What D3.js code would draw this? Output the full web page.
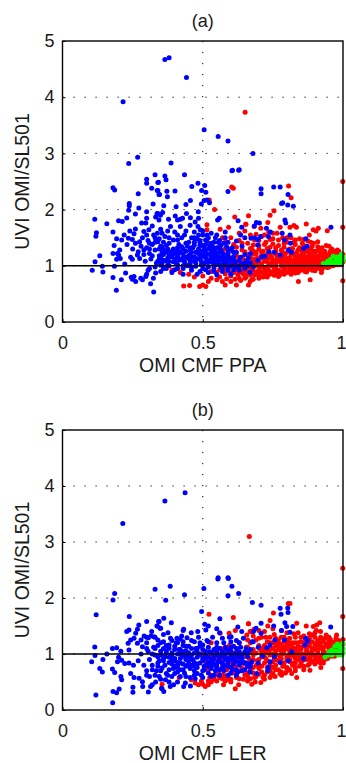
<!DOCTYPE html>
<html>
<head>
<meta charset="utf-8">
<script src="https://cdn.jsdelivr.net/npm/d3@7"></script>
<style>
  html, body { margin: 0; padding: 0; background: #fff; }
  text { font-family: "Liberation Sans", Arial, sans-serif; fill: #1a1a1a; }
</style>
</head>
<body>
<div id="vis"></div>
<script>
// values, [cmf, ratio]
var redA = [
[.806,2.42],[.609,2.38],[.999,2.5],[.999,1.685],[.999,.736],[.651,3.73],[.603,2.4],[.815,2.21],[.754,1.98],[.74,1.9],[.523,2.17],[.542,2],[.614,1.87],[.663,1.89],[.654,1.74],[.653,1.74],[.732,1.77],[.707,1.67],[.776,1.685],[.811,1.685],[.825,1.715],[.834,1.685],[.869,1.745],[.894,1.64],[.912,1.67],[.904,1.62],[.944,1.625],[.515,1.73],[.515,1.64],[.562,1.65],[.592,1.685],[.683,1.7],[.65,1.62],
[.432,.64],[.453,.65],[.489,.63],[.511,.63],[.5,.66],[.52,.72],[.58,.66],[.62,.66],[.663,.66],[.669,.72],[.7,.78],[.841,.72],[.883,.75],[.923,.88],[.77,.81],[.83,.87],[.39,.92],[.42,.88],[.45,.85],[.47,.8],[.5,.82],[.53,.78],[.55,.75],[.57,.72],[.6,.72],[.635,.74],[.65,.78],[.68,.76],
[.53,.9],[.54,1.02],[.55,.88],[.56,.8],[.57,.95],[.58,.86],[.585,.77],[.59,.92],[.6,.82],[.605,.98],[.61,.88],[.615,.76],[.62,.94],[.625,.84],[.63,.78],[.635,.9],[.64,1],[.645,.85],[.65,.93],[.655,.8],[.66,.9],[.665,.98],[.67,.84],[.675,.76],[.68,.92],[.685,.84],[.69,1],[.695,.9],[.7,.82],[.705,.97],[.71,.88],[.715,.8],[.72,.95],[.725,.86],[.73,.8],[.735,.92],[.74,.85],[.745,1],[.75,.9],[.755,.83],[.76,.96],[.765,.87],[.77,.92],[.775,.84],[.78,1],[.785,.9],[.79,.85],[.795,.96],[.8,.88],[.805,1.02],[.81,.93],[.815,.85],[.82,.98],[.825,.9],[.83,1.05],[.835,.94],[.84,.88],[.845,1],[.85,.92],[.855,1.08],[.86,.97],[.865,.9],[.87,1.02],[.875,.94],[.88,1.1],[.885,.98],[.89,.92],[.895,1.05],[.9,.96],[.905,1.14],[.91,1.02],[.915,.95],[.92,1.08],[.925,.98],[.93,1.18],[.935,1.04],[.94,.98],[.945,1.14],[.95,1.02],[.955,1.22],[.96,1],[.965,1.27],[.97,1.02],[.975,1.22],[.98,1.02],[.985,1.26],[.99,1.04],[.995,1.02],
[.55,1.2],[.56,1.35],[.57,1.1],[.58,1.42],[.59,1.25],[.6,1.08],[.61,1.38],[.62,1.18],[.63,1.45],[.64,1.28],[.65,1.1],[.66,1.4],[.665,1.2],[.67,1.55],[.675,1.3],[.68,1.12],[.685,1.46],[.69,1.24],[.7,1.36],[.705,1.14],[.71,1.52],[.715,1.26],[.72,1.08],[.725,1.42],[.73,1.2],[.735,1.6],[.74,1.33],[.745,1.13],[.75,1.48],[.755,1.24],[.76,1.1],[.765,1.58],[.77,1.36],[.775,1.16],[.78,1.28],[.785,1.5],[.79,1.1],[.795,1.22],[.8,1.42],[.805,1.14],[.81,1.3],[.815,1.5],[.82,1.1],[.825,1.2],[.83,1.38],[.835,1.14],[.84,1.28],[.845,1.48],[.85,1.12],[.855,1.22],[.86,1.36],[.865,1.16],[.87,1.26],[.875,1.44],[.88,1.18],[.885,1.3],[.89,1.22],[.895,1.4],[.9,1.14],[.905,1.26],[.91,1.34],[.915,1.18],[.92,1.24],[.925,1.32],[.93,1.1],[.935,1.26],[.94,1.36],[.945,1.06],[.95,1.2],[.955,1.1],[.96,1.3],[.965,1.1],[.97,1.2],[.975,1.08],[.98,1.16],[.985,1.1],[.99,1.2],[.995,1.14],[1,1.1],
[.62,1.05],[.64,1.15],[.66,1.06],[.68,1.22],[.7,1.06],[.72,1.18],[.74,1.04],[.76,1.2],[.78,1.1],[.8,1.04],[.82,1.04],[.84,1.06],[.86,1.06],[.88,1.03],[.9,1.06],[.92,1.02],[.94,1.08],[.76,1],[.79,1.02],[.81,1.08],[.83,1.16],[.85,1.18],[.87,1.1],[.89,1.12],[.91,1.12],[.93,1.0],[.95,1.1],[.97,1.08],[.67,1.02],[.69,1.1],[.71,1],[.73,1.12],[.75,1.06]
];
var redCoreA = [
[.6,.87],[.63,.88],[.66,.86],[.69,.87],[.72,.88],[.75,.86],[.78,.88],[.81,.89],[.84,.9],[.87,.89],[.9,.91],
[.56,.93],[.585,.94],[.615,.92],[.645,.93],[.675,.94],[.7,.92],[.73,.93],[.76,.92],[.79,.93],[.82,.94],[.85,.95],[.875,.94],[.9,.95],[.925,.94],[.945,.97],
[.58,.98],[.61,.99],[.64,.97],[.67,.98],[.7,.99],[.73,.98],[.755,.97],[.785,.98],[.81,.99],[.835,.98],[.86,1],[.885,.99],[.905,.98],[.93,.99],[.95,.98],[.965,1],
[.6,1.03],[.63,1.04],[.655,1.02],[.685,1.04],[.71,1.03],[.735,1.04],[.76,1.03],[.78,1.05],[.805,1.03],[.825,1.04],[.85,1.02],[.87,1.05],[.89,1.03],[.91,1.05],[.93,1.03],[.95,1.05],[.97,1.03],[.985,1.02],
[.62,1.09],[.65,1.08],[.675,1.1],[.7,1.09],[.725,1.08],[.75,1.1],[.77,1.08],[.795,1.09],[.815,1.1],[.84,1.08],[.86,1.1],[.88,1.08],[.9,1.1],[.92,1.09],[.94,1.11],[.96,1.08],[.98,1.09],[1,1.07],
[.64,1.14],[.67,1.15],[.695,1.13],[.72,1.14],[.745,1.15],[.765,1.13],[.79,1.15],[.81,1.14],[.83,1.12],[.85,1.15],[.87,1.14],[.89,1.16],[.91,1.15],[.93,1.14],[.95,1.15],[.97,1.14],[.99,1.16],
[.66,1.19],[.69,1.2],[.71,1.18],[.74,1.2],[.77,1.19],[.79,1.18],[.815,1.2],[.84,1.18],[.86,1.2],[.88,1.21],[.9,1.19],[.92,1.2],[.94,1.2],[.96,1.18],[.98,1.21],[1,1.2],
[.65,1.25],[.68,1.26],[.71,1.24],[.735,1.25],[.76,1.26],[.785,1.24],[.81,1.25],[.835,1.24],[.855,1.26],[.875,1.25],[.895,1.26],[.915,1.27],[.935,1.24],[.955,1.26],[.98,1.28],
[.67,1.31],[.7,1.3],[.73,1.31],[.76,1.32],[.79,1.33],[.82,1.31],[.845,1.32],[.87,1.33],[.89,1.35],[.92,1.31],[.95,1.35],
[.68,1.37],[.72,1.38],[.75,1.39],[.79,1.4],[.825,1.42],[.855,1.4],[.885,1.42],[.91,1.43],
[.64,1.4],[.7,1.45],[.74,1.47],[.77,1.46],[.8,1.5],[.83,1.46],[.86,1.47],
[.88,1.55],[.72,1.55],[.75,1.58],[.69,1.56],[.58,1.3],[.6,1.3],[.62,1.33],[.57,1.5],[.6,1.5],[.63,1.58]
];
var blueA = [
[.38,4.7],[.365,4.67],[.442,4.35],[.216,3.92],[.505,3.42],[.555,3.3],[.59,3.22],[.679,3],[.268,2.93],[.236,2.82],[.387,2.83],[.435,2.62],[.606,2.7],[.63,2.71],[.33,2.62],[.365,2.6],[.369,2.53],[.3,2.54],[.3,2.47],[.342,2.485],[.34,2.48],[.18,2.39],[.186,2.35],[.318,2.38],[.338,2.34],[.344,2.27],[.27,2.28],[.604,2.69],[.628,2.7],[.483,2.47],[.461,2.41],[.507,2.43],[.496,2.34],[.511,2.31],[.401,2.33],[.372,2.325],[.34,2.34],[.346,2.27],[.374,2.23],[.59,2.32],[.708,2.37],[.708,2.28],[.753,2.4],[.776,2.4],[.804,2.27],[.781,2.11],[.785,2.12],[.803,2.08],[.823,2.06],
[.238,2.11],[.238,2.07],[.323,2.1],[.272,2.03],[.236,1.99],[.3,1.96],[.26,1.92],[.34,1.93],[.332,1.87],[.115,1.83],[.229,1.85],[.2,1.8],[.213,1.79],[.158,1.75],[.3,1.845],[.344,1.815],[.282,1.76],[.297,1.76],[.32,1.71],[.26,1.655],[.24,1.62],[.18,1.6],[.121,1.59],[.119,1.525],[.22,1.55],[.255,1.57],[.308,1.64],[.29,1.61],[.3,1.55],[.338,1.58],[.193,1.48],[.211,1.46],[.235,1.49],[.249,1.47],[.23,1.38],[.275,1.43],[.184,1.36],[.204,1.28],[.18,1.22],[.196,1.22],[.2,1.19],[.193,1.115],[.206,1.13],[.133,1.18],[.116,1.07],[.243,1.15],[.249,1.115],[.222,1.03],[.267,1.19],
[.106,.92],[.142,.99],[.144,.89],[.185,.99],[.18,.79],[.21,.75],[.225,.87],[.245,.795],[.255,.81],[.249,.76],[.261,.72],[.285,.75],[.297,.81],[.279,.78],[.3,.85],[.324,.78],[.314,.68],[.192,.564],[.325,.534],[.332,.87],[.305,.92],[.31,.95],
[.515,2.17],[.524,2.12],[.505,2.16],[.495,2.1],[.456,2.16],[.44,2.09],[.405,2.05],[.361,2.07],[.484,1.96],[.442,1.93],[.402,1.885],[.357,1.95],[.349,1.9],[.337,1.93],[.378,1.83],[.428,1.845],[.42,1.83],[.41,1.815],[.456,1.857],[.485,1.845],[.553,1.815],[.559,1.845],[.626,1.8],[.639,1.685],[.473,1.78],[.483,1.7],[.491,1.64],
[.691,1.77],[.702,1.76],[.684,1.71],[.727,1.67],[.793,1.815],[.796,1.76],[.957,1.685],[.741,1.6],[.783,1.58],[.811,1.55],[.734,1.52],[.706,1.52],[.684,1.5],[.672,1.49],[.696,1.47],[.696,1.37],[.791,1.46],[.813,1.4],[.867,1.48],[.872,1.35],[.859,1.31],[.805,1.28],[.817,1.24],[.776,1.19],[.755,1.24],[.736,1.25],[.722,1.17],[.71,1.16],[.696,1.1],[.67,1.22],[.663,1.14],[.657,1.08],[.669,.885],
[.25,1.3],[.26,1.4],[.27,1.25],[.275,1.13],[.28,1.35],[.285,1.5],[.29,1.2],[.295,1.08],[.3,1.32],[.305,1.45],[.31,1.22],[.315,1.12],[.32,1.38],[.325,1.55],[.33,1.28],[.335,1.05],[.34,1.43],[.345,1.18],[.35,1.65],[.355,1.33],[.36,1.1],[.365,1.52],[.37,1.24],[.375,1.02],[.38,1.4],[.385,1.7],[.39,1.16],[.395,1.3],[.4,1.6],[.405,1.05],[.41,1.46],[.415,1.22],[.42,1.7],[.425,1.34],[.43,1.1],[.435,1.55],[.44,1.26],[.445,1],[.45,1.42],[.455,1.72],[.46,1.15],[.465,1.32],[.47,1.6],[.475,1.05],[.48,1.48],[.485,1.22],[.49,1.36],[.495,1.02],[.5,1.55],[.505,1.16],[.51,1.28],[.515,1.44],[.52,1.06],[.525,1.2],[.53,1.58],[.535,1.34],[.54,1.1],[.545,1.24],[.55,1.04],[.555,1.42],[.56,1.15],[.565,1.28],[.57,1.02],[.575,1.2],[.58,1.5],[.585,1.08],[.59,1.3],[.6,1.14],[.61,1.02],[.62,1.24],[.63,1.1],[.64,1.35],[.65,1.2],
[.33,.98],[.34,1.08],[.35,.9],[.36,1.2],[.37,.95],[.38,1.08],[.39,.88],[.4,1.22],[.41,.95],[.42,1.12],[.43,.85],[.44,1.02],[.45,1.18],[.46,.92],[.47,1.08],[.48,.85],[.49,1.14],[.5,.95],[.51,1.06],[.52,.88],[.53,1.12],[.54,.96],[.55,.84],[.56,1.02],[.57,.9],[.58,1.1],[.59,.98],[.6,.85],[.61,1.1],[.62,.98],[.63,.92],[.64,1.04],[.65,.95],[.66,1],[.67,1.05],[.68,.98],
[.32,1.18],[.33,1.42],[.345,1.3],[.355,1.05],[.37,1.36],[.385,1.25],[.395,1.46],[.41,1.32],[.425,1.5],[.44,1.4],[.455,1.28],[.47,1.42],[.485,1.55],[.5,1.36],[.515,1.55],[.53,1.4],[.545,1.5],[.56,1.32],[.575,1.4],[.59,1.18],[.605,1.32],[.62,1.44],[.635,1.55],[.65,1.5],
[.36,1.28],[.38,1.18],[.4,1.12],[.42,1.25],[.44,1.15],[.46,1.24],[.48,1.12],[.5,1.22],[.52,1.3],[.54,1.18],[.56,1.24],[.58,1.14],[.47,1.5],[.49,1.45],[.51,1.38],[.53,1.28],[.55,1.32],[.57,1.1]
];
var blueCoreA = [
[.36,.95],[.4,.93],[.43,.95],[.46,.97],[.49,.9],[.51,.93],[.54,.9],[.57,.96],[.59,.92],[.61,.93],
[.35,1.01],[.38,1],[.41,1.02],[.43,1],[.455,1.03],[.475,.99],[.5,1.02],[.52,.98],[.545,1.02],[.565,.97],[.585,1.03],[.6,1],[.63,1],[.65,1.02],
[.345,1.12],[.37,1.09],[.395,1.07],[.415,1.1],[.435,1.07],[.455,1.09],[.475,1.12],[.495,1.08],[.515,1.11],[.535,1.06],[.555,1.09],[.575,1.06],[.595,1.08],[.615,1.06],[.635,1.15],[.655,1.08],
[.35,1.15],[.375,1.14],[.41,1.17],[.43,1.14],[.45,1.13],[.47,1.16],[.49,1.18],[.51,1.15],[.53,1.16],[.55,1.13],[.57,1.16],[.59,1.13],[.61,1.16],
[.355,1.23],[.39,1.22],[.43,1.21],[.455,1.2],[.475,1.24],[.495,1.26],[.515,1.21],[.535,1.24],[.55,1.21],[.57,1.23],[.59,1.22],[.61,1.24],
[.35,1.35],[.375,1.3],[.41,1.27],[.43,1.3],[.46,1.32],[.485,1.3],[.505,1.32],[.525,1.36],[.545,1.3],[.565,1.36],[.585,1.34],[.6,1.28],
[.345,1.48],[.36,1.42],[.38,1.5],[.415,1.38],[.445,1.35],[.47,1.37],[.49,1.42],[.51,1.46],[.54,1.42],[.56,1.45],[.59,1.42],
[.31,1.3],[.29,1.28],[.31,1.4],[.33,1.5],[.355,1.58],[.375,1.62],[.41,1.55],[.44,1.62],[.46,1.5],[.5,1.62],[.52,1.5],[.55,1.55],[.58,1.6]
];
var greenA = [
[.93,1.04],[.945,1.08],[.955,1.11],[.965,1.17],[.975,1.15],[.985,1.16],[.995,1.21],[.95,1.03],[.97,1.05],[.995,1.05],[.98,1.08],[.99,1.12],[1,1.1],[.96,1.06],[.975,1.1],[.94,1.03],[.985,1.05],[1,1.16]
];
var redB = [
[.666,3.1],[.999,2.53],[.999,1.67],[.999,.74],[.811,1.9],[.805,1.9],[.752,1.73],[.74,1.6],[.835,1.55],[.663,1.54],[.522,1.71],[.609,1.65],[.663,1.54],[.594,1.37],[.616,1.42],[.562,1.37],[.669,1.4],[.683,1.44],[.672,1.4],[.657,1.34],[.732,1.5],[.869,1.5],[.894,1.49],[.906,1.52],[.917,1.56],[.977,1.34],[.92,1.4],[.905,1.42],[.95,1.3],
[.616,.38],[.355,.46],[.459,.54],[.416,.58],[.485,.45],[.509,.42],[.473,.48],[.52,.45],[.574,.45],[.628,.45],[.675,.46],[.707,.49],[.687,.5],[.835,.58],[.817,.65],[.882,.71],[.921,.76],[.758,.6],[.781,.62],[.5,.46],[.495,.52],[.53,.5],[.55,.52],[.58,.52],[.6,.5],[.66,.52],[.72,.55],[.74,.58],
[.5,1.0],[.51,.88],[.52,.72],[.525,.58],[.53,.95],[.54,.8],[.545,.62],[.55,.92],[.555,.72],[.56,.58],[.565,1.1],[.57,.82],[.575,.62],[.58,.95],[.585,.72],[.59,.55],[.595,1.15],[.6,.84],[.605,.66],[.61,1.02],[.615,.78],[.62,.58],[.625,.92],[.63,1.2],[.635,.7],[.64,1],[.645,.55],[.65,.82],[.655,1.12],[.66,.66],[.665,.92],[.67,.56],[.675,1.05],[.68,.76],[.685,.58],[.69,1.25],[.695,.88],[.7,.64],[.705,1.08],[.71,.78],[.715,.58],[.72,.95],[.725,1.3],[.73,.68],[.735,1.1],[.74,.82],[.745,.62],[.75,1],[.755,1.35],[.76,.72],[.765,1.18],[.77,.88],[.775,.65],[.78,1.05],[.785,.78],[.79,1.3],[.795,.66],[.8,.95],[.805,1.18],[.81,.72],[.815,1.06],[.82,.84],[.825,1.36],[.83,.7],[.835,.98],[.84,1.2],[.845,.78],[.85,1.08],[.855,.88],[.86,.72],[.865,1.28],[.87,1],[.875,.8],[.88,1.14],[.885,.88],[.89,1.34],[.895,.98],[.9,.82],[.905,1.2],[.91,.92],[.915,1.1],[.92,.84],[.925,1.28],[.93,1],[.935,.9],[.94,1.18],[.945,.92],[.95,1.1],[.955,1.26],[.96,.96],[.965,1.16],[.97,1.02],[.975,1.28],[.98,1.16],[.985,1.24],[.99,1.02],[.995,1.22],[1,1.26],
[.66,.78],[.67,1.2],[.68,.9],[.69,1.02],[.7,.8],[.71,.95],[.72,1.15],[.73,.88],[.74,.98],[.75,.76],[.76,.9],[.77,1.08],[.78,.92],[.79,.84],[.8,1.1],[.81,.86],[.82,.98],[.83,1.1],[.84,.9],[.85,.82],[.86,1],[.87,.9],[.88,1.02],[.89,.86],[.9,1.08],[.91,1.02],[.92,.96],[.93,.84],[.94,1.02],[.95,.96],[.96,1.08],[.97,1.1],[.98,1.04],
[.75,1.2],[.76,1.05],[.77,1.25],[.78,1.18],[.79,1.12],[.8,1.25],[.81,1.04],[.82,1.2],[.83,.92],[.84,1.06],[.85,1.3],[.86,1.14],[.87,1.18],[.88,1.28],[.89,1.1],[.9,1.3],[.91,1.16],[.92,1.2],[.93,1.12],[.94,1.28],[.96,1.2],[.7,1.15],[.71,1.3],[.72,1.05],[.73,1.22],[.74,1.3],[.68,1.32],[.66,1.25],[.65,1.02],[.63,1.02],[.62,1.1],[.6,1.02],[.58,1.1],[.56,.98],[.54,1.02],[.53,1.2]
];
var redCoreB = [
[.52,.52],[.54,.55],[.57,.56],[.6,.55],[.63,.56],[.66,.6],[.69,.6],[.72,.62],[.75,.65],[.78,.68],[.8,.7],
[.53,.62],[.56,.64],[.59,.62],[.62,.65],[.65,.63],[.68,.66],[.71,.68],[.74,.7],[.77,.72],[.8,.76],[.83,.76],[.86,.78],
[.55,.7],[.58,.78],[.61,.72],[.64,.74],[.67,.72],[.7,.74],[.73,.76],[.76,.8],[.79,.78],[.82,.8],[.85,.86],[.88,.82],[.91,.86],
[.6,.9],[.63,.86],[.66,.84],[.69,.8],[.72,.84],[.75,.86],[.78,.85],[.81,.9],[.83,.84],[.86,.9],[.88,.92],[.9,.9],[.92,.9],[.94,.94],
[.65,.96],[.67,.88],[.7,.9],[.725,.92],[.755,.92],[.775,.95],[.8,.9],[.825,.96],[.845,.94],[.865,.96],[.885,.96],[.905,.96],[.925,.94],[.95,1],[.97,.96],
[.66,1.02],[.68,.98],[.71,1.02],[.735,1.02],[.76,.98],[.785,1],[.81,.98],[.83,1.02],[.85,1],[.87,1.04],[.89,1],[.91,1.06],[.93,1.02],[.95,1.04],[.97,1],
[.68,1.08],[.71,1.1],[.73,1.06],[.75,1.1],[.77,1.14],[.79,1.06],[.81,1.12],[.83,1.06],[.85,1.12],[.87,1.08],[.89,1.06],[.91,1.1],[.93,1.06],[.95,1.14],[.97,1.06],[.99,1.08],
[.72,1.12],[.74,1.08],[.76,1.14],[.78,1.12],[.8,1.18],[.82,1.12],[.84,1.14],[.86,1.2],[.88,1.18],[.9,1.16],[.92,1.14],[.94,1.14],[.96,1.14],[.98,1.1],[1,1.18],
[.74,1.2],[.77,1.18],[.79,1.22],[.81,1.2],[.83,1.2],[.85,1.22],[.87,1.24],[.89,1.22],[.91,1.24],[.93,1.22],[.95,1.22],[.97,1.22],
[.76,1.28],[.78,1.3],[.81,1.28],[.83,1.3],[.86,1.32],[.88,1.36],[.9,1.38],[.92,1.3],[.94,1.34],
[.78,1.42],[.8,1.38],[.84,1.38],[.72,1.4],[.7,1.28],[.7,1.42],[.75,1.45],[.66,1.12],[.62,.98],[.57,.9],[.58,.6]
];
var blueB = [
[.437,3.88],[.365,3.73],[.215,3.33],[.555,2.36],[.59,2.36],[.33,2.155],[.186,2.08],[.18,1.965],[.12,1.7],[.238,1.67],[.3,1.58],[.272,1.52],[.344,1.58],[.338,1.5],[.237,1.43],[.229,1.4],[.267,1.44],[.261,1.37],[.318,1.4],[.291,1.32],[.306,1.29],[.326,1.31],[.35,1.46],[.255,1.28],[.243,1.25],[.234,1.19],[.237,1.07],[.267,1.19],[.285,1.13],[.115,1.125],[.178,1.1],[.193,1.11],[.208,1.05],[.158,1],[.116,.975],[.144,.9],[.104,.86],[.2,.94],[.211,.89],[.196,.86],[.222,.83],[.237,.84],[.253,.8],[.133,.74],[.142,.68],[.178,.73],[.186,.67],[.243,.65],[.255,.58],[.208,.6],[.211,.54],[.273,.565],[.285,.505],[.286,.42],[.251,.405],[.251,.315],[.306,.32],[.119,.27],[.18,.33],[.193,.31],[.202,.375],[.179,.13],[.32,.45],[.332,.5],[.314,.42],[.353,.39],
[.554,2.34],[.591,2.35],[.384,2.21],[.504,2.17],[.604,2.21],[.628,2.08],[.59,2.04],[.435,2.06],[.368,1.96],[.677,1.92],[.496,1.76],[.561,1.63],[.507,1.53],[.361,1.64],[.343,1.58],[.388,1.56],[.337,1.5],[.348,1.46],[.376,1.38],[.432,1.44],[.459,1.38],[.482,1.4],[.511,1.43],[.55,1.45],[.601,1.31],[.639,1.4],[.625,1.48],[.68,1.22],[.408,1.28],[.42,1.27],[.444,1.29],[.43,1.42],[.52,1.5],
[.361,.33],[.355,.38],[.384,.42],[.396,.45],[.367,.54],[.432,.42],[.438,.48],[.456,.43],[.473,.56],[.41,.5],[.42,.6],[.39,.6],[.37,.65],[.345,.6],[.33,.62],[.31,.6],[.3,.7],[.32,.72],[.34,.78],
[.708,1.87],[.776,1.815],[.803,1.82],[.804,1.74],[.779,1.71],[.793,1.56],[.799,1.49],[.781,1.42],[.811,1.39],[.821,1.49],[.753,1.5],[.708,1.55],[.69,1.46],[.681,1.4],[.708,1.37],[.956,1.48],[.757,1.25],[.791,1.25],[.867,1.28],[.874,1.23],[.864,1.16],[.74,1.16],[.728,1.11],[.698,1.12],[.675,1.22],[.655,1.1],[.817,1.04],[.713,.96],[.755,.95],[.859,.92],[.805,.88],[.74,.86],[.698,.84],[.776,.85],[.734,.77],[.732,.7],[.669,.77],[.669,.68],[.693,.65],[.657,.83],[.675,.86],
[.3,1.2],[.305,1.05],[.31,.9],[.315,1.32],[.32,.8],[.325,1.12],[.33,.98],[.335,.7],[.34,1.25],[.345,.88],[.35,1.05],[.355,.75],[.36,1.35],[.365,.95],[.37,1.15],[.375,.62],[.38,.85],[.385,1.28],[.39,1.02],[.395,.74],[.4,.92],[.405,1.2],[.41,.68],[.415,1.08],[.42,.84],[.425,1.32],[.43,.96],[.435,.66],[.44,1.14],[.445,.8],[.45,1.02],[.455,.58],[.46,1.24],[.465,.9],[.47,.7],[.475,1.1],[.48,.82],[.485,1.3],[.49,.98],[.495,.62],[.5,1.16],[.505,.78],[.51,.92],[.515,1.24],[.52,.66],[.525,1.04],[.53,.84],[.535,1.3],[.54,.96],[.545,.7],[.55,1.12],[.555,.86],[.56,1.38],[.565,1],[.57,.76],[.575,1.2],[.58,.9],[.585,1.08],[.59,.78],[.595,1.3],[.6,.96],[.605,.72],[.61,1.14],[.615,.86],[.62,1.24],[.625,1],[.63,.8],[.635,1.12],[.64,.92],[.645,1.28],[.65,1.04],[.66,.95],[.67,1.08],
[.32,1],[.33,1.1],[.34,.95],[.35,1.2],[.36,.88],[.37,1.02],[.38,1.1],[.39,.9],[.4,1.08],[.41,.85],[.42,1],[.43,1.15],[.44,.9],[.45,1.14],[.46,.98],[.47,.85],[.48,1.04],[.49,1.14],[.5,.88],[.51,1.05],[.52,.85],[.53,1.02],[.54,.82],[.55,.98],[.56,.88],[.57,1.04],[.58,1],[.59,.92],[.6,1.06],[.61,.92],[.62,1.02],[.63,.95],[.64,.84],
[.4,.78],[.42,.72],[.44,.78],[.46,.8],[.48,.65],[.5,.7],[.52,.78],[.54,.62],[.56,.72],[.58,.8],[.6,.66],[.62,.72],[.64,.7],[.66,.78]
];
var blueCoreB = [
[.35,.7],[.38,.72],[.405,.76],[.43,.72],[.455,.74],[.48,.76],[.505,.72],[.53,.74],[.55,.76],[.575,.7],[.6,.76],[.625,.68],[.65,.72],
[.34,.84],[.365,.8],[.39,.82],[.41,.78],[.43,.82],[.45,.86],[.47,.78],[.49,.84],[.51,.8],[.53,.78],[.55,.8],[.57,.84],[.59,.86],[.61,.82],[.63,.86],[.65,.85],[.67,.82],
[.36,.92],[.38,.94],[.4,.88],[.42,.92],[.44,.96],[.46,.9],[.48,.94],[.5,.92],[.52,.94],[.54,.9],[.56,.94],[.58,.92],[.6,.9],[.62,.94],[.64,.98],[.66,1.02],
[.35,.98],[.37,1.06],[.39,.98],[.41,1],[.43,1.04],[.45,.94],[.47,1.02],[.49,1],[.51,.98],[.53,.9],[.55,1.04],[.57,.97],[.59,1.02],[.61,1],[.63,1.04],
[.36,1.1],[.38,1.16],[.4,1.14],[.42,1.08],[.44,1.06],[.46,1.1],[.48,1.1],[.5,1.08],[.52,1.12],[.54,1.08],[.56,1.1],[.58,1.12],[.6,1.12],[.62,1.1],
[.34,1.15],[.36,1.22],[.39,1.24],[.41,1.2],[.43,1.22],[.47,1.22],[.49,1.2],[.52,1.22],[.55,1.2],[.57,1.28],[.6,1.22],[.63,1.2],
[.33,1.3],[.3,1.3],[.28,1.25],[.3,1.1],[.28,1],[.27,.88],[.29,.8],[.3,.62],[.35,.55],[.38,.5],[.4,.65],[.44,.6],[.47,.62],[.5,.58],[.53,.6],[.56,.62],[.59,.62],[.62,.62]
];
var greenB = [
[.936,.94],[.96,1.07],[.971,1.14],[.989,1.1],[.999,1.19],[.983,.98],[.948,.98],[.965,1.0],[.98,1.18],[.99,1.03],[.95,1.04],[1,1.1],[.975,1.05],[.96,.98],[.985,1.14],[.94,.98],[.995,.98],[1,1.02]
];
var xTicks = [0, 0.5, 1];
var xTickLabels = ['0', '0.5', '1'];
var yTicks = [0, 1, 2, 3, 4, 5];

var svg = d3.select('#vis').append('svg')
    .attr('width', 346)
    .attr('height', 763)
    .style('display', 'block');

function drawPanel(top, bottom, title, xLabel, red, blue, green)
{
    var left = 62.5, right = 343;
    var xScale = d3.scaleLinear().domain([0, 1]).range([left, right]);
    var yScale = d3.scaleLinear().domain([0, 5]).range([bottom, top]);
    var g = svg.append('g');

    // dotted grid, same tick positions as the axes
    g.selectAll('.gx').data(xTicks.slice(1, -1)).enter().append('line')
        .attr('x1', function(d) { return xScale(d); })
        .attr('x2', function(d) { return xScale(d); })
        .attr('y1', top).attr('y2', bottom)
        .attr('stroke', '#000').attr('stroke-width', 1).attr('stroke-dasharray', '1.2,9.8');
    g.selectAll('.gy').data(yTicks.slice(1, -1)).enter().append('line')
        .attr('x1', left).attr('x2', right)
        .attr('y1', function(d) { return yScale(d); })
        .attr('y2', function(d) { return yScale(d); })
        .attr('stroke', '#000').attr('stroke-width', 1).attr('stroke-dasharray', '1.2,9.8');

    function dots(data, color)
    {
        g.append('g').selectAll('circle').data(data).enter().append('circle')
            .attr('cx', function(d) { return xScale(d[0]); })
            .attr('cy', function(d) { return yScale(d[1]); })
            .attr('r', 2.5)
            .attr('fill', color);
    }
    dots(red, '#ff0000');
    dots(blue, '#0000ff');
    dots(green, '#00ff00');

    // reference line at ratio 1
    g.append('line')
        .attr('x1', left).attr('x2', right)
        .attr('y1', yScale(1)).attr('y2', yScale(1))
        .attr('stroke', '#000').attr('stroke-width', 1.6);

    // frame
    g.append('rect')
        .attr('x', left).attr('y', top)
        .attr('width', right - left).attr('height', bottom - top)
        .attr('fill', 'none').attr('stroke', '#000').attr('stroke-width', 1.4);

    var xAxis = d3.axisBottom(xScale).tickValues(xTicks)
        .tickFormat(function(d, i) { return xTickLabels[i]; })
        .tickSize(-3).tickPadding(14);
    var yAxis = d3.axisLeft(yScale).tickValues(yTicks)
        .tickFormat(d3.format('d'))
        .tickSize(-3).tickPadding(8);

    var ax = g.append('g').attr('transform', 'translate(0,' + bottom + ')').call(xAxis);
    var ay = g.append('g').attr('transform', 'translate(' + left + ',0)').call(yAxis);
    ax.select('.domain').remove();
    ay.select('.domain').remove();
    ax.selectAll('text').style('font-size', '18px').attr('dy', '0.71em');
    ay.selectAll('text').style('font-size', '18px');
    ax.selectAll('line').attr('stroke', '#000');
    ay.selectAll('line').attr('stroke', '#000');
    // last label would run over the page edge
    ax.selectAll('text').filter(function(d) { return d === 1; }).attr('x', -2);

    g.append('text')
        .attr('x', (left + right) / 2).attr('y', top - 14)
        .attr('text-anchor', 'middle').style('font-size', '18px')
        .text(title);
    g.append('text')
        .attr('x', (left + right) / 2).attr('y', bottom + 50)
        .attr('text-anchor', 'middle').style('font-size', '19.5px')
        .text(xLabel);
    g.append('text')
        .attr('transform', 'translate(29,' + (top + bottom) / 2 + ') rotate(-90)')
        .attr('text-anchor', 'middle').style('font-size', '19.5px')
        .text('UVI OMI/SL501');
}

drawPanel(41, 322, '(a)', 'OMI CMF PPA', redA.concat(redCoreA), blueA.concat(blueCoreA), greenA);
drawPanel(430, 710, '(b)', 'OMI CMF LER', redB.concat(redCoreB), blueB.concat(blueCoreB), greenB);
</script>
</body>
</html>
